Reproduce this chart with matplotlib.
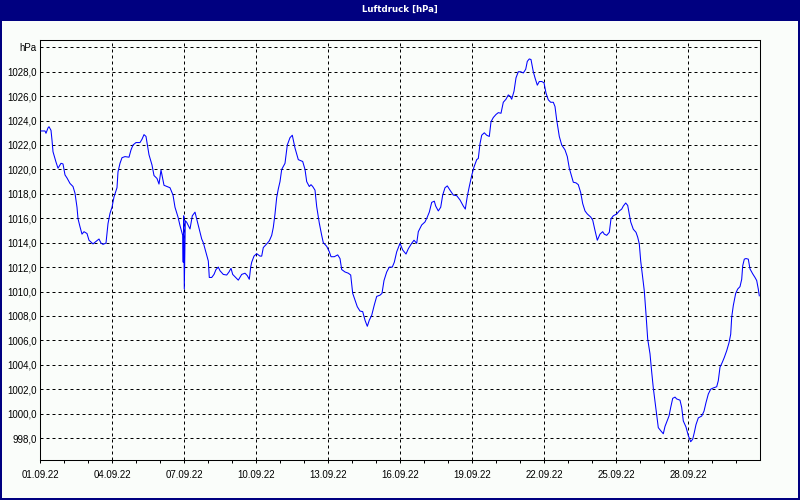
import numpy as np
import matplotlib
matplotlib.use("Agg")
import matplotlib.pyplot as plt
import matplotlib.dates as mdates
from matplotlib.patches import Rectangle
from matplotlib.ticker import FixedLocator, FixedFormatter
from datetime import datetime

# ---------------- data ----------------
title = "Luftdruck [hPa]"
start_date = datetime(2022, 9, 1)
end_date = datetime(2022, 10, 1)

# hours since 01.09.22 00:00
hours = [
    1, 5, 6, 8, 9, 11, 12, 13, 16, 18, 21, 23, 25, 27, 30, 33, 35, 37, 38, 40,
    42, 44, 47, 49, 53, 56, 59, 61, 63, 66, 68, 70, 72, 74, 77, 78, 80, 82, 85, 89,
    91, 93, 96, 100, 102, 104, 106, 107, 109, 112, 114, 117, 119, 121, 123, 124, 127, 130, 133, 135,
    138, 140,
    142.7, 143.2, 143.7, 144.3, 145.3,
    146.7, 150, 152.3, 155, 156.7, 159.3, 161.7, 163.3, 166, 168.3, 169.3, 171.7, 174, 176, 178.3,
    180, 183.3, 186.7, 189, 191, 192.7, 195.7, 198.3, 201.7, 205, 207.3, 209.3, 210.7, 211.7, 214,
    216.7, 220, 221.7, 223.3, 226.7, 229.3, 231.7, 233.3, 235, 236.7, 238.3,
    240, 241.7, 245, 247.3, 250, 252.3, 255, 258.3, 262.7, 265, 266.7, 269.3, 271, 272.7, 275,
    276.7, 279.3, 281.7, 283.3, 286.7, 289.3, 291, 294.3, 297.7, 300, 301.7, 305, 308.3, 310.7,
    312.7, 315, 317.3, 320, 322.7, 325, 327.3, 329.3, 331.7, 334.3, 336.7, 340, 342, 344, 346.7,
    349.3, 352.3, 354.3, 356.7, 360, 362.7, 366, 368.3, 371.7, 374, 376.7, 378.3, 381.7, 385,
    387.3, 389.3, 391.7, 394.3, 395.7, 398.3, 400.7, 402.7, 405, 407.3, 410, 413.3, 416.7, 420,
    423.3, 425.3, 427.3, 429.3,
    431.7, 434, 436.7, 438.3, 440, 441.7, 444.3, 446.7, 449.3, 451, 453.3, 456, 458.3, 461,
    463.3, 466, 468.3, 470, 471.7, 474, 476, 478.3, 480.7, 483.3, 485.7, 487.3, 489.3, 491,
    493.3, 495, 497.3, 499.3, 501.7, 504, 506, 508.3, 510.7, 513.3, 515, 516.7, 519.3, 521.7,
    525, 527.3, 529.3, 531.7,
    533.3, 536, 538.3, 540.7, 542.7, 545, 547.3, 550.7, 552.7, 555, 557.3, 560, 562.7, 564.3,
    566.7, 569.3, 571, 573.3, 576.7, 579.3, 581.7, 583.3, 585.7, 587.7, 589.3, 590.7, 593.3, 596,
    597.7, 599.3, 600.7, 602.7, 604.3, 606, 607.7, 610, 611.7, 613.3, 615, 616.7, 618.3, 620.7,
    623.3, 625, 627.3, 629, 630.7, 632.7, 635, 636.7, 640, 641.7, 643.3, 646, 648.3, 650.7,
    652.7, 654.3, 656, 658.3, 661.7, 664, 666, 668.3, 670.7, 673.3, 676.7, 678.3, 680, 682.3,
    684.3, 686.7, 689, 690.7, 691.7, 693.3, 695.7, 697.7, 700, 701.7, 702.7, 704.3, 706, 708.3,
    710, 712.7, 715, 716.7, 718.3, 719.3,
]

pressure_hpa = [
    1023.15, 1023.15, 1022.96, 1023.4, 1023.5, 1023.2, 1022.4, 1021.45, 1020.6, 1020.1,
    1020.5, 1020.45, 1019.55, 1019.3, 1018.85, 1018.6, 1018.05, 1016.9, 1015.97, 1015.3,
    1014.7, 1014.9, 1014.75, 1014.2, 1013.9, 1014.1, 1014.3, 1013.97, 1013.86, 1013.97,
    1015.56, 1016.4, 1016.9, 1017.75, 1018.5, 1019.8, 1020.5, 1020.96, 1021.05, 1021.0,
    1021.6, 1022.0, 1022.2, 1022.2, 1022.47, 1022.85, 1022.7, 1022.2, 1021.2, 1020.36,
    1019.5, 1019.26, 1018.8, 1019.95, 1019.1, 1018.7, 1018.6, 1018.5, 1017.9, 1016.9,
    1016.1, 1015.4,
    1014.6, 1012.4, 1016.2, 1010.2, 1015.8,
    1015.67, 1015.12, 1016.2, 1016.5, 1015.95, 1015.12, 1014.3, 1014.0, 1013.2, 1012.5,
    1011.15, 1011.15, 1011.4, 1011.8, 1012.0, 1011.7, 1011.4, 1011.35, 1011.6, 1011.9,
    1011.4, 1011.15, 1010.93, 1011.4, 1011.5, 1011.3, 1011.0, 1012.0, 1012.4, 1012.9,
    1013.1, 1012.9, 1012.9, 1013.6, 1013.9, 1014.15, 1014.6, 1015.25, 1016.35, 1017.7, 1018.4,
    1019.0, 1020.0, 1020.5, 1022.0, 1022.6, 1022.8, 1021.75, 1020.8, 1020.65, 1020.0,
    1019.0, 1018.6, 1018.75, 1018.6, 1018.3, 1016.95, 1015.6, 1014.6, 1014.0, 1013.7,
    1013.26, 1012.85, 1012.85, 1013.0, 1012.7, 1011.8, 1011.6, 1011.5, 1011.35, 1009.85,
    1009.3, 1008.75, 1008.4, 1008.35, 1007.65, 1007.15, 1007.65, 1008.05, 1008.9, 1009.6,
    1009.7, 1009.85, 1010.9, 1011.6, 1012.0, 1012.0, 1012.4, 1013.25, 1013.95, 1013.4,
    1013.07, 1013.5, 1013.95, 1014.2, 1013.95, 1014.9, 1015.45, 1015.7, 1016.1, 1016.5,
    1017.3, 1017.4, 1017.0, 1016.6, 1016.9, 1017.9, 1018.5, 1018.65, 1018.3, 1017.9,
    1017.85, 1017.5, 1017.0, 1016.75, 1017.8, 1018.6,
    1019.5, 1020.2, 1020.8, 1020.9, 1022.1, 1022.8, 1023.0, 1022.8, 1022.7, 1023.9,
    1024.25, 1024.5, 1024.65, 1024.6, 1025.5, 1025.75, 1026.1, 1026.0, 1025.75, 1026.4,
    1027.5, 1028.0, 1028.0, 1027.9, 1028.2, 1028.85, 1029.05, 1029.0, 1028.0, 1027.5,
    1026.9, 1027.2, 1027.2, 1027.1, 1026.25, 1025.7, 1025.5, 1025.5, 1025.15, 1024.05,
    1022.7, 1022.0, 1021.6, 1021.05, 1020.1, 1019.4,
    1018.95, 1018.9, 1018.75, 1018.1, 1017.2, 1016.6, 1016.35, 1016.1, 1015.85, 1015.0,
    1014.2, 1014.7, 1014.9, 1014.7, 1014.6, 1014.85, 1015.95, 1016.2, 1016.35, 1016.6,
    1016.75, 1017.0, 1017.25, 1017.05, 1016.35, 1015.7, 1015.1, 1014.85, 1014.45, 1013.9,
    1012.5, 1011.15, 1010.05, 1008.15, 1006.1, 1004.9, 1003.4, 1002.1, 1001.0, 999.95,
    998.85, 998.6, 998.35, 998.95, 999.45, 999.8, 1000.5, 1001.25, 1001.35, 1001.2,
    1001.1, 1000.5, 999.4, 998.9, 998.2, 997.7, 997.9, 998.45, 999.1, 999.65,
    999.8, 1000.2, 1000.9, 1001.6, 1002.0, 1002.1, 1002.2, 1002.7, 1003.8, 1004.2,
    1004.6, 1005.15, 1005.8, 1006.5, 1007.9, 1008.85, 1009.85, 1010.2, 1010.4, 1011.0,
    1012.1, 1012.65, 1012.7, 1012.65, 1011.85, 1011.45, 1011.15, 1010.9, 1010.2, 1009.65,
]

y_ticks = [998, 1000, 1002, 1004, 1006, 1008, 1010, 1012, 1014, 1016,
           1018, 1020, 1022, 1024, 1026, 1028, 1030]
y_tick_labels = [f"{v:.1f}".replace(".", ",") for v in y_ticks[:-1]] + ["hPa"]
major_day_labels = ["01.09.22", "04.09.22", "07.09.22", "10.09.22", "13.09.22",
                    "16.09.22", "19.09.22", "22.09.22", "25.09.22", "28.09.22"]

# ---------------- figure ----------------
W, H = 800, 500
bg = "#FAFDFA"
navy = "#000080"
fig = plt.figure(figsize=(W / 100, H / 100), dpi=100, facecolor=bg)

# title bar and window border
fig.patches.append(Rectangle((0, 1 - 20.5 / H), 1, 20.5 / H, transform=fig.transFigure,
                             facecolor=navy, edgecolor="none", zorder=0))
fig.patches.append(Rectangle((1 / W, 1 / H), 1 - 2 / W, 1 - 2 / H, transform=fig.transFigure,
                             fill=False, edgecolor=navy, linewidth=1.44, zorder=5))
fig.text(0.5, 1 - 9 / H, title, color="white", ha="center", va="center",
         fontsize=6.2, fontweight="bold",
         family=["Liberation Sans Narrow", "DejaVu Sans"])

ax = fig.add_axes([40 / W, 40 / H, 720 / W, 420 / H])
ax.set_facecolor(bg)

t0 = mdates.date2num(start_date)
xvals = t0 + np.array(hours) / 24.0
ax.plot(xvals, pressure_hpa, color="#0000FF", linewidth=0.75, zorder=3)

ax.set_xlim(t0, mdates.date2num(end_date))
ax.set_ylim(996.2, 1030.6)

major_pos = [t0 + 3 * i for i in range(len(major_day_labels))]
minor_pos = [t0 + i for i in range(30)]
ax.xaxis.set_major_locator(FixedLocator(major_pos))
ax.xaxis.set_major_formatter(FixedFormatter(major_day_labels))
ax.xaxis.set_minor_locator(FixedLocator(minor_pos))
ax.yaxis.set_major_locator(FixedLocator(y_ticks))
ax.yaxis.set_major_formatter(FixedFormatter(y_tick_labels))

for lab in ax.get_xticklabels() + ax.get_yticklabels():
    lab.set_fontfamily(["Liberation Sans", "DejaVu Sans"])
ax.tick_params(axis="x", which="both", direction="out", length=2.3, width=0.72,
               colors="black", labelsize=7, pad=5)
ax.tick_params(axis="y", which="both", length=0, labelsize=7, pad=2.5, colors="black")

ax.grid(True, which="major", color="black", linestyle=(0, (3, 3)), linewidth=0.72)
ax.set_axisbelow(True)
for s in ax.spines.values():
    s.set_color("black")
    s.set_linewidth(0.75)

fig.savefig("out.png", dpi=100, facecolor=bg)
